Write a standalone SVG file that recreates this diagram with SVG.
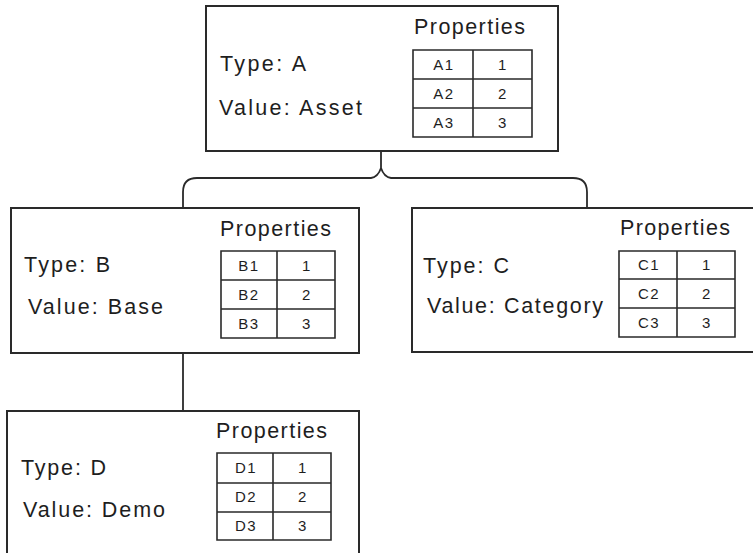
<svg xmlns="http://www.w3.org/2000/svg" width="753" height="553" viewBox="0 0 753 553">
<style>
.box{fill:#fff;stroke:#2a2a2a;stroke-width:2}
.tbl{fill:none;stroke:#2a2a2a;stroke-width:1.6}
.conn{fill:none;stroke:#2a2a2a;stroke-width:1.8}
.lbl{font-family:"Liberation Sans",Arial,sans-serif;font-size:21.5px;fill:#1e1e1e}
.cell{font-family:"Liberation Sans",Arial,sans-serif;font-size:15px;fill:#1e1e1e;text-anchor:middle;letter-spacing:1.5px}
</style>
<rect width="753" height="553" fill="#fff"/>
<g id="connectors">
<path class="conn" d="M381,151 V168 Q384,177 391,178 H573 Q587,178 587,192 V208"/>
<path class="conn" d="M381,168 Q378,177 371,178 H197 Q183,178 183,192 V208"/>
<path class="conn" d="M183,353 V411"/>
</g>
<g id="nodeA">
<rect class="box" x="206" y="6" width="352" height="145"/>
<text class="lbl" x="414" y="34" textLength="111" lengthAdjust="spacing">Properties</text>
<text class="lbl" x="220" y="71" textLength="86" lengthAdjust="spacing">Type: A</text>
<text class="lbl" x="219" y="115" textLength="143" lengthAdjust="spacing">Value: Asset</text>
<path class="tbl" d="M413,50 H532 V137 H413 Z M473,50 V137 M413,79 H532 M413,108 H532"/>
<text class="cell" x="444" y="70">A1</text><text class="cell" x="503" y="70">1</text>
<text class="cell" x="444" y="99">A2</text><text class="cell" x="503" y="99">2</text>
<text class="cell" x="444" y="128">A3</text><text class="cell" x="503" y="128">3</text>
</g>
<g id="nodeB">
<rect class="box" x="11" y="208" width="348" height="145"/>
<text class="lbl" x="220" y="236" textLength="111" lengthAdjust="spacing">Properties</text>
<text class="lbl" x="24" y="272" textLength="86" lengthAdjust="spacing">Type: B</text>
<text class="lbl" x="28" y="314" textLength="135" lengthAdjust="spacing">Value: Base</text>
<path class="tbl" d="M221,251 H335 V338 H221 Z M277,251 V338 M221,280 H335 M221,309 H335"/>
<text class="cell" x="249" y="271">B1</text><text class="cell" x="307" y="271">1</text>
<text class="cell" x="249" y="300">B2</text><text class="cell" x="307" y="300">2</text>
<text class="cell" x="249" y="329">B3</text><text class="cell" x="307" y="329">3</text>
</g>
<g id="nodeC">
<rect class="box" x="412" y="208" width="343" height="144"/>
<text class="lbl" x="620" y="235" textLength="110" lengthAdjust="spacing">Properties</text>
<text class="lbl" x="423" y="273" textLength="86" lengthAdjust="spacing">Type: C</text>
<text class="lbl" x="427" y="313" textLength="176" lengthAdjust="spacing">Value: Category</text>
<path class="tbl" d="M619,251 H735 V337 H619 Z M677,251 V337 M619,279 H735 M619,308 H735"/>
<text class="cell" x="649" y="270">C1</text><text class="cell" x="707" y="270">1</text>
<text class="cell" x="649" y="299">C2</text><text class="cell" x="707" y="299">2</text>
<text class="cell" x="649" y="328">C3</text><text class="cell" x="707" y="328">3</text>
</g>
<g id="nodeD">
<rect class="box" x="7" y="411" width="352" height="150"/>
<text class="lbl" x="216" y="438" textLength="111" lengthAdjust="spacing">Properties</text>
<text class="lbl" x="21" y="475" textLength="85" lengthAdjust="spacing">Type: D</text>
<text class="lbl" x="23" y="517" textLength="142" lengthAdjust="spacing">Value: Demo</text>
<path class="tbl" d="M217,453 H331 V540 H217 Z M273,453 V540 M217,483 H331 M217,512 H331"/>
<text class="cell" x="246" y="473">D1</text><text class="cell" x="303" y="473">1</text>
<text class="cell" x="246" y="502">D2</text><text class="cell" x="303" y="502">2</text>
<text class="cell" x="246" y="531">D3</text><text class="cell" x="303" y="531">3</text>
</g>
</svg>
